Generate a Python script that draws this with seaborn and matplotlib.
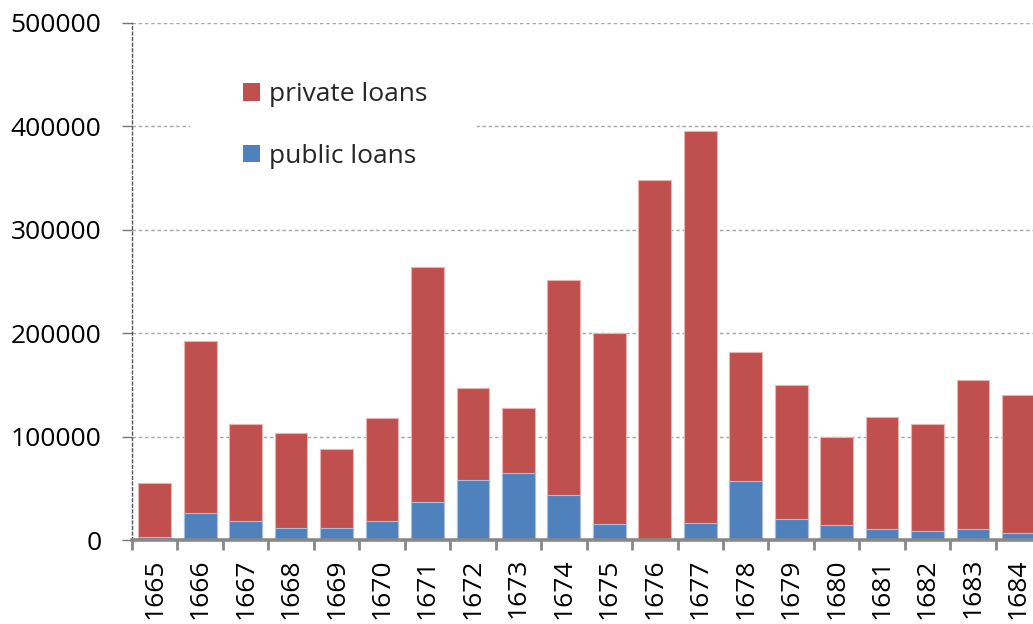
import matplotlib
matplotlib.use("Agg")
import matplotlib.pyplot as plt
from matplotlib.patches import Patch, Rectangle
import seaborn as sns
import pandas as pd
import numpy as np

years = [str(y) for y in range(1665, 1685)]
public_loans = [3000, 26000, 18500, 11500, 11500, 18500, 37000, 58000, 64500, 43500,
                15500, 500, 16000, 57000, 20500, 14500, 10500, 9000, 10500, 7000]
totals = [55500, 192500, 112000, 103000, 87700, 117700, 264000, 147000, 127700, 251800,
          200200, 348200, 395300, 182200, 149600, 100000, 119300, 112600, 154700, 140600]
private_loans = [t - p for t, p in zip(totals, public_loans)]

RED = "#C0504D"
BLUE = "#4F81BD"

sns.set_theme(style="white")
plt.rcParams['font.family'] = ['Open Sans', 'DejaVu Sans']

df = pd.DataFrame({"year": years, "public": public_loans, "private": private_loans})
df["total"] = df["public"] + df["private"]

fig = plt.figure(figsize=(10.33, 6.24), dpi=100)
W, H = 1033, 624
ax = fig.add_axes([132 / W, 1 - 540 / H, 1 - 132 / W, (540 - 23) / H])

sns.barplot(data=df, x="year", y="total", color=RED, saturation=1, width=0.72,
            edgecolor="#E8B4B3", linewidth=0.8, ax=ax, zorder=2)
sns.barplot(data=df, x="year", y="public", color=BLUE, saturation=1, width=0.72,
            edgecolor="#A9BFDD", linewidth=0.8, ax=ax, zorder=3)

ax.set_yticks(np.arange(0, 500001, 100000))
ax.set_yticklabels([str(v) for v in range(0, 500001, 100000)])
ax.set_xticks(np.arange(-0.5, 19.0, 1.0), minor=True)
ax.set_xlim(-0.5, 19.32)
ax.set_ylim(0, 500000)
ax.set_xlabel("")
ax.set_ylabel("")

ax.set_axisbelow(True)
ax.yaxis.grid(True, color="#a6a6a6", linestyle=(0, (2.5, 2)), linewidth=1.0)
ax.xaxis.grid(False)

for s in ["top", "right"]:
    ax.spines[s].set_visible(False)
ax.spines["bottom"].set_color("#888888")
ax.spines["bottom"].set_linewidth(2.6)
ax.spines["bottom"].set_zorder(5)
ax.spines["left"].set_color("#555555")
ax.spines["left"].set_linewidth(1.0)
ax.spines["left"].set_linestyle((0, (2, 2)))

ax.tick_params(axis="y", which="major", length=7, width=1, color="#777777",
               labelsize=19, pad=15, left=True)
ax.tick_params(axis="x", which="major", length=0, labelsize=19, pad=13, rotation=90)
ax.tick_params(axis="x", which="minor", length=7, width=2, color="#888888", bottom=True)
for lbl in ax.get_xticklabels() + ax.get_yticklabels():
    lbl.set_color("black")

# white backing of the legend area
ax.add_patch(Rectangle(((190 - 132) / 901, (540 - 195) / 517), (477 - 190) / 901, (195 - 55) / 517,
                       transform=ax.transAxes, facecolor="white", edgecolor="none", zorder=1))

handles = [Patch(facecolor=RED, edgecolor="none"), Patch(facecolor=BLUE, edgecolor="none")]
ax.legend(handles, ["private loans", "public loans"], loc="upper left",
          bbox_to_anchor=((243 - 132) / 901, (540 - 82) / 517), frameon=False,
          fontsize=19, handlelength=0.65, handleheight=0.65, handletextpad=0.35,
          labelspacing=1.4, borderpad=0, borderaxespad=0)

fig.savefig("out.png", dpi=100)
